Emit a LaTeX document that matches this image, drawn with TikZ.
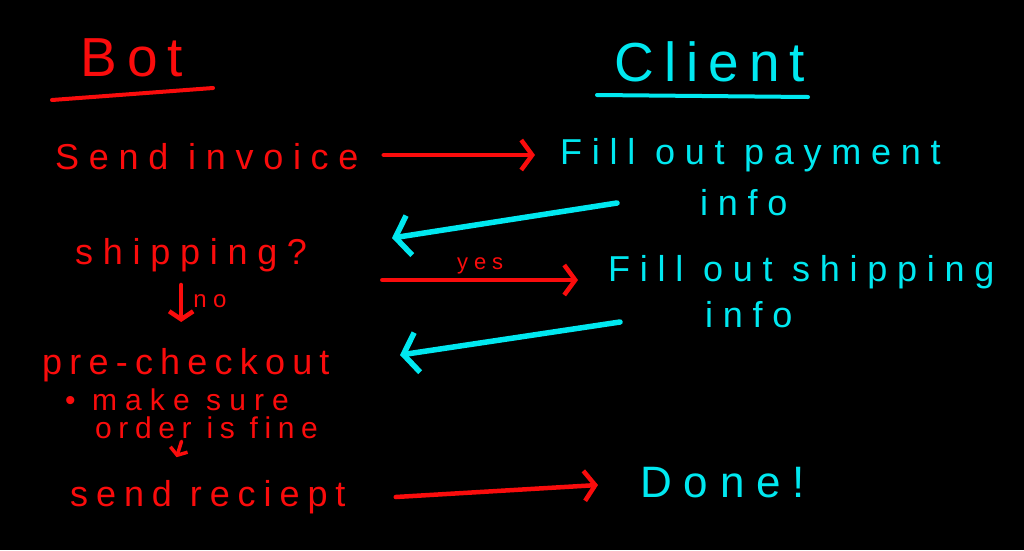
\documentclass[tikz,border=0pt]{standalone}
\usepackage{fontspec}
\setmainfont{Liberation Sans}
\newfontfamily\handfont[LetterSpace=27]{Liberation Sans}
\newfontfamily\headfont[LetterSpace=18]{Liberation Sans}
\usetikzlibrary{arrows.meta,positioning,calc}
\definecolor{botred}{RGB}{250,12,12}
\definecolor{clientcyan}{RGB}{0,232,240}

\begin{document}
\begin{tikzpicture}[x=1pt,y=-1pt,
  bottxt/.style={text=botred,inner sep=0pt,font=\handfont\fontsize{36}{38}\selectfont},
  clienttxt/.style={text=clientcyan,inner sep=0pt,font=\handfont\fontsize{36}{38}\selectfont},
  notetxt/.style={text=botred,inner sep=0pt,font=\handfont\fontsize{30}{32}\selectfont},
  headtxt/.style={inner sep=0pt,font=\headfont\fontsize{55}{57}\selectfont},
  redarrow/.style={draw=botred,line width=4.5pt,line cap=round,-{Straight Barb[length=11pt,width=30pt]}},
  cyanarrow/.style={draw=clientcyan,line width=5.5pt,line cap=round,-{Straight Barb[length=14pt,width=40pt]}}]
  \fill[black] (0,0) rectangle (1024,550); % board
  \useasboundingbox (0,0) rectangle (1024,550);
  % headings
  \node[headtxt,text=botred] (bot) at (132,58){Bot};
  \node[headtxt,text=clientcyan] (client) at (710,62){Client};
  \draw[botred,line width=4pt,line cap=round] (52,100) -- (213,88);
  \draw[clientcyan,line width=4pt,line cap=round] (597,95) -- (808,97);
  % bot side
  \node[bottxt,anchor=west] (invoice) at (55,157){Send invoice};
  \node[bottxt,anchor=west] (shipping) at (75,255){shipping?};
  \node[bottxt,anchor=west,font=\handfont\fontsize{36}{38}\selectfont\addfontfeature{LetterSpace=20}] (precheck) at (42,365){pre-checkout};
  \node[notetxt,anchor=west] (sure) at (65,400){• make sure};
  \node[notetxt,anchor=west,font=\handfont\fontsize{30}{32}\selectfont\addfontfeature{LetterSpace=22}] (fine) at (95,428){order is fine};
  \node[bottxt,anchor=west,font=\handfont\fontsize{36}{38}\selectfont\addfontfeature{LetterSpace=22}] (receipt) at (70,497){send reciept};
  % client side
  \node[clienttxt,anchor=west] (payment) at (560,155){Fill out payment};
  \node[clienttxt,anchor=west] (payinfo) at (700,203){info};
  \node[clienttxt,anchor=west] (shipinfo) at (608,272){Fill out shipping};
  \node[clienttxt,anchor=west] (shipinfo2) at (705,315){info};
  \node[clienttxt,anchor=west,font=\handfont\fontsize{44}{46}\selectfont] (done) at (640,483){Done!};
  % arrows
  \coordinate (paytip) at (392,238);
  \coordinate (shiptip) at (400,355);
  \draw[redarrow] ($(invoice.east)+(25,-2)$) -- ($(payment.west)+(-25,0)$);
  \draw[cyanarrow] ($(payinfo.west)+(-83,0)$) -- (paytip);
  \draw[redarrow] ($(shipping.east)+(75,25)$) -- ($(shipinfo.west)+(-30,8)$)
    node[midway,above=4pt,text=botred,inner sep=0pt,font=\handfont\fontsize{22}{24}\selectfont] (yes){yes};
  \draw[cyanarrow] ($(shipinfo2.west)+(-85,7)$) -- (shiptip);
  \draw[redarrow,-{Straight Barb[length=8pt,width=24pt]}] ($(shipping.south)+(-10,13)$) -- ($(shipping.south)+(-10,50)$)
    node[pos=0.2,anchor=north west,xshift=10pt,text=botred,inner sep=0pt,font=\handfont\fontsize{24}{26}\selectfont] (no){no};
  \draw[redarrow,line width=3.5pt,-{Straight Barb[length=6pt,width=18pt]}] ($(fine.south)+(-25,2)$) -- ($(fine.south)+(-30,18)$);
  \draw[redarrow] ($(receipt.east)+(50,0)$) -- ($(done.west)+(-42,2)$);
\end{tikzpicture}
\end{document}
